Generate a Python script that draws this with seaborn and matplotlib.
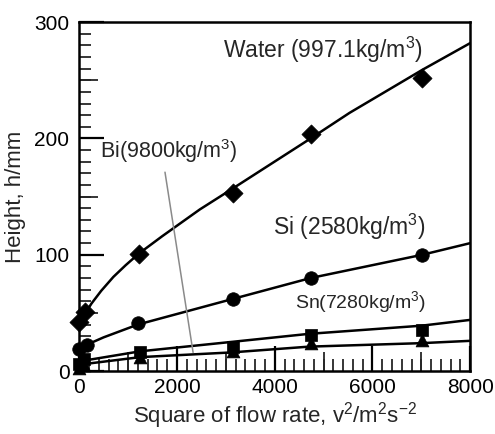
import matplotlib
matplotlib.use("Agg")
import matplotlib.pyplot as plt
import pandas as pd
import seaborn as sns
from matplotlib.ticker import MultipleLocator

# measured points (x = v^2, y = height in mm)
water_x = [0, 120, 1220, 3140, 4735, 7020]
water_y = [42, 51, 101, 153, 204, 252]
si_x = [0, 160, 1200, 3140, 4735, 7020]
si_y = [19, 22, 41, 62, 80, 100]
sn_x = [0, 100, 1245, 3140, 4735, 7020]
sn_y = [6, 10, 16, 21, 31, 35]
bi_x = [0, 90, 1245, 3140, 4735, 7020]
bi_y = [3, 5, 12, 17, 24, 27]

# fitted curves
water_fit_x = [100, 250, 450, 700, 950, 1220, 1700, 2469, 3143, 4735, 5531, 7020, 8000]
water_fit_y = [48, 58, 69, 81, 91, 101, 116, 139, 157, 200, 222, 259, 282]
si_fit_x = [120, 500, 1200, 3140, 4735, 7020, 8000]
si_fit_y = [22, 29, 40, 62, 80, 100, 110]
sn_fit_x = [100, 1250, 3100, 4700, 7000, 8000]
sn_fit_y = [9, 17, 25, 32, 39, 44]
bi_fit_x = [100, 1250, 3100, 4700, 7000, 8000]
bi_fit_y = [6, 12, 16, 21, 24, 26]

materials = ["Water", "Si", "Sn", "Bi"]
markers = {"Water": "D", "Si": "o", "Sn": "s", "Bi": "^"}
sizes = {"Water": 95, "Si": 95, "Sn": 85, "Bi": 85}


def main():
    sns.set_theme(style="ticks")
    plt.rcParams["font.family"] = ["Liberation Sans", "DejaVu Sans"]
    plt.rcParams["mathtext.fontset"] = "custom"
    plt.rcParams["mathtext.rm"] = "Liberation Sans"
    plt.rcParams["mathtext.it"] = "Liberation Sans:italic"
    plt.rcParams["mathtext.default"] = "regular"

    pts = pd.concat([
        pd.DataFrame({"x": water_x, "y": water_y, "mat": "Water"}),
        pd.DataFrame({"x": si_x, "y": si_y, "mat": "Si"}),
        pd.DataFrame({"x": sn_x, "y": sn_y, "mat": "Sn"}),
        pd.DataFrame({"x": bi_x, "y": bi_y, "mat": "Bi"}),
    ])
    fits = pd.concat([
        pd.DataFrame({"x": water_fit_x, "y": water_fit_y, "mat": "Water"}),
        pd.DataFrame({"x": si_fit_x, "y": si_fit_y, "mat": "Si"}),
        pd.DataFrame({"x": sn_fit_x, "y": sn_fit_y, "mat": "Sn"}),
        pd.DataFrame({"x": bi_fit_x, "y": bi_fit_y, "mat": "Bi"}),
    ])

    fig = plt.figure(figsize=(4.95, 4.34), dpi=100)
    ax = fig.add_axes([0.16, 0.145, 0.79, 0.804])

    for mat in materials:
        f = fits[fits["mat"] == mat]
        sns.lineplot(data=f, x="x", y="y", color="black", linewidth=1.8,
                     sort=False, estimator=None, ax=ax)
        p = pts[pts["mat"] == mat]
        sns.scatterplot(data=p, x="x", y="y", marker=markers[mat], s=sizes[mat],
                        color="black", edgecolor="black", linewidth=0.5,
                        clip_on=False, zorder=5, ax=ax)

    ax.set_xlim(0, 8000)
    ax.set_ylim(0, 300)

    ax.xaxis.set_major_locator(MultipleLocator(2000))
    ax.xaxis.set_minor_locator(MultipleLocator(200))
    ax.yaxis.set_major_locator(MultipleLocator(100))
    ax.yaxis.set_minor_locator(MultipleLocator(10))
    ax.tick_params(which="major", direction="in", length=18, width=1.6,
                   labelsize=15, pad=7, colors="black")
    ax.tick_params(which="minor", direction="in", length=8.5, width=1.3)
    ax.tick_params(axis="x", pad=5)

    # medium-length ticks at the half-way marks
    secx = ax.secondary_xaxis("bottom")
    secx.set_xticks([1000, 3000, 5000, 7000])
    secx.tick_params(direction="in", length=13.5, width=1.3, labelbottom=False)
    secx.spines["bottom"].set_visible(False)
    secy = ax.secondary_yaxis("left")
    secy.set_yticks([50, 150, 250])
    secy.tick_params(direction="in", length=13.5, width=1.3, labelleft=False)
    secy.spines["left"].set_visible(False)

    for sp in ax.spines.values():
        sp.set_visible(True)
        sp.set_linewidth(1.8)
        sp.set_color("black")

    ax.set_xlabel(r"Square of flow rate, v$^2$/m$^2$s$^{-2}$", fontsize=16, labelpad=2)
    ax.set_ylabel("Height, h/mm", fontsize=16, labelpad=6)

    ax.text(4980, 276, r"Water (997.1kg/m$^3$)", fontsize=16.5, ha="center", va="center")
    ax.text(5530, 124, r"Si (2580kg/m$^3$)", fontsize=16.5, ha="center", va="center")
    ax.text(5755, 59, r"Sn(7280kg/m$^3$)", fontsize=14, ha="center", va="center")
    ax.text(1837, 189, r"Bi(9800kg/m$^3$)", fontsize=15.5, ha="center", va="center")
    ax.plot([1755, 2330], [171, 16], color="#8a8a8a", linewidth=1.1)

    fig.savefig("out.png", dpi=100)
    plt.close(fig)


if __name__ == "__main__":
    main()
